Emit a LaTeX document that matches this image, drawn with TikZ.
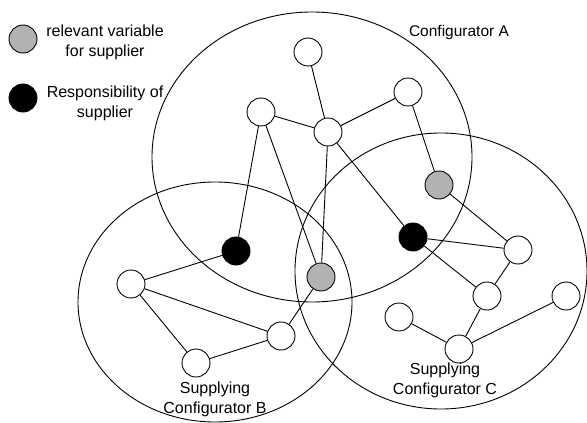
\documentclass[tikz,border=0pt]{standalone}
\usepackage{fontspec}
\setmainfont{Liberation Sans}
\begin{document}
\begin{tikzpicture}[x=1pt,y=-1pt,
  v/.style={circle,draw,line width=0.9pt,minimum size=28pt,inner sep=0pt,fill=white},
  gv/.style={v,fill={rgb,255:red,178;green,178;blue,178}},
  bv/.style={v,fill=black},
  edge/.style={line width=0.9pt},
  region/.style={line width=0.9pt},
  lbl/.style={align=center,font=\fontsize{16}{20}\selectfont,inner sep=0pt}]
\useasboundingbox (0,0) rectangle (587,423);
% regions
\draw[region] (312,157) ellipse [x radius=160, y radius=145];
\draw[region] (215,302) ellipse [x radius=137, y radius=120];
\draw[region] (441,271) ellipse [x radius=146, y radius=138];
% nodes
\node[v] (n1) at (308,52) {};
\node[v] (n2) at (261,112) {};
\node[v] (n3) at (328,132) {};
\node[v] (n4) at (408,92) {};
\node[gv] (g1) at (439,185) {};
\node[bv] (k2) at (413,237) {};
\node[v] (n5) at (518,250) {};
\node[v] (n6) at (487,296) {};
\node[v] (n7) at (566,296) {};
\node[v] (n8) at (399,317) {};
\node[v] (n9) at (459,349) {};
\node[gv] (g2) at (321,277) {};
\node[bv] (k1) at (236,251) {};
\node[v] (n10) at (131,284) {};
\node[v] (n11) at (281,336) {};
\node[v] (n12) at (196,363) {};
% edges
\draw[edge] (n1) -- (n3);
\draw[edge] (n2) -- (n3);
\draw[edge] (n3) -- (n4);
\draw[edge] (n4) -- (g1);
\draw[edge] (n2) -- (k1);
\draw[edge] (n2) -- (g2);
\draw[edge] (n3) -- (g2);
\draw[edge] (n3) -- (k2);
\draw[edge] (g1) -- (n5);
\draw[edge] (k2) -- (n5);
\draw[edge] (k2) -- (n6);
\draw[edge] (n5) -- (n6);
\draw[edge] (n6) -- (n9);
\draw[edge] (n8) -- (n9);
\draw[edge] (n9) -- (n7);
\draw[edge] (k1) -- (n10);
\draw[edge] (n10) -- (n11);
\draw[edge] (n10) -- (n12);
\draw[edge] (n12) -- (n11);
\draw[edge] (n11) -- (g2);
% labels
\node[lbl,font=\fontsize{15.5}{20}\selectfont] (la) at (459,32) {Configurator A};
\node[lbl] (lb) at (215,399) {Supplying\\Configurator B};
\node[lbl] (lc) at (445,380) {Supplying\\Configurator C};
% legend
\node[gv] (lg) at (23,39) {};
\node[lbl] (lgt) at (105,42) {relevant variable\\for supplier};
\node[bv] (lk) at (23,98) {};
\node[lbl] (lkt) at (105,103) {Responsibility of\\supplier};
\end{tikzpicture}
\end{document}
